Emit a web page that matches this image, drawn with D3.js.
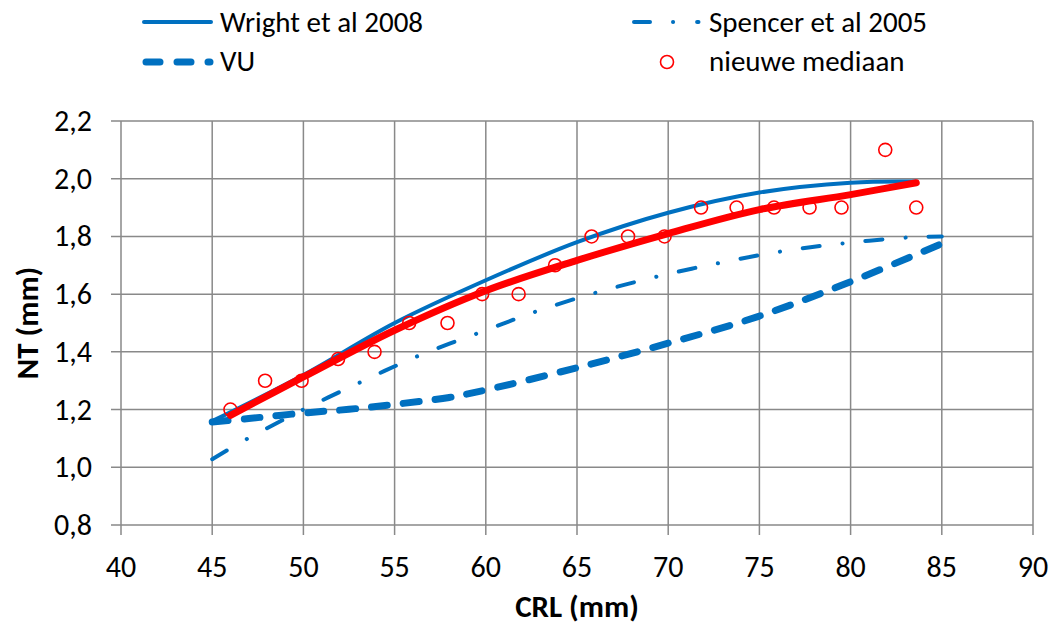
<!DOCTYPE html>
<html>
<head>
<meta charset="utf-8">
<script src="https://cdn.jsdelivr.net/npm/d3@7"></script>
<style>
  body { margin: 0; background: #fff; }
  svg text { font-family: Carlito, Calibri, "Open Sans", sans-serif; fill: #000; }
</style>
</head>
<body>
<svg id="chart" width="1054" height="629"></svg>
<script>
// nieuwe mediaan (points)
var crl = [46, 47.9, 49.9, 51.9, 53.9, 55.8, 57.9, 59.8, 61.8, 63.8, 65.8, 67.8, 69.8, 71.8, 73.75, 75.8, 77.75, 79.5, 81.9, 83.6];
var nt  = [1.2, 1.3, 1.3, 1.375, 1.4, 1.5, 1.5, 1.6, 1.6, 1.7, 1.8, 1.8, 1.8, 1.9, 1.9, 1.9, 1.9, 1.9, 2.1, 1.9];

// fitted curve through the new medians
var fitX = [46, 50, 55, 60, 65, 70, 75, 80, 83.6];
var fitY = [1.18, 1.313, 1.475, 1.612, 1.717, 1.81, 1.893, 1.945, 1.986];

// Wright et al 2008
var wrightX = [45, 50, 55, 60, 65, 70, 75, 80, 83.6];
var wrightY = [1.16, 1.32, 1.5, 1.648, 1.78, 1.882, 1.952, 1.986, 1.99];

// Spencer et al 2005
var spencerX = [45, 46.9, 50, 53.2, 56.3, 60, 62.9, 66.2, 69.6, 72.95, 76.4, 79.9, 83.3, 85];
var spencerY = [1.028, 1.098, 1.2, 1.297, 1.386, 1.475, 1.543, 1.608, 1.664, 1.71, 1.75, 1.778, 1.797, 1.8];

// VU
var vuX = [45, 47, 50, 52.5, 55, 58, 60, 65, 70, 75, 80, 85];
var vuY = [1.157, 1.169, 1.188, 1.201, 1.218, 1.242, 1.268, 1.345, 1.43, 1.524, 1.643, 1.775];

var xTicks = [40, 45, 50, 55, 60, 65, 70, 75, 80, 85, 90];
var yTicks = [0.8, 1.0, 1.2, 1.4, 1.6, 1.8, 2.0, 2.2];

var blue = '#0070C0', red = '#FF0000', grid = '#898989';

var svg = d3.select('#chart');
var x = d3.scaleLinear().domain([40, 90]).range([121, 1033]);
var y = d3.scaleLinear().domain([0.8, 2.2]).range([525, 121]);
var fmt = function(v) { return d3.format('.1f')(v).replace('.', ','); };

// gridlines + tick marks
svg.append('g').selectAll('line').data(xTicks).enter().append('line')
    .attr('x1', function(d) { return x(d); }).attr('x2', function(d) { return x(d); })
    .attr('y1', y(2.2)).attr('y2', y(0.8) + 10)
    .attr('stroke', grid).attr('stroke-width', 1.5);
svg.append('g').selectAll('line').data(yTicks).enter().append('line')
    .attr('x1', x(40) - 10).attr('x2', x(90))
    .attr('y1', function(d) { return y(d); }).attr('y2', function(d) { return y(d); })
    .attr('stroke', grid).attr('stroke-width', 1.5);

// tick labels
svg.append('g').selectAll('text').data(xTicks).enter().append('text')
    .attr('x', function(d) { return x(d); }).attr('y', 577)
    .attr('text-anchor', 'middle').style('font-size', '30px')
    .text(function(d) { return d; });
svg.append('g').selectAll('text').data(yTicks).enter().append('text')
    .attr('x', 92).attr('y', function(d) { return y(d) + 10; })
    .attr('text-anchor', 'end').style('font-size', '30px')
    .text(fmt);

// axis titles
svg.append('text').attr('x', 577).attr('y', 617).attr('text-anchor', 'middle')
    .style('font-size', '31px').style('font-weight', 'bold').text('CRL (mm)');
svg.append('text').attr('transform', 'translate(38,323) rotate(-90)').attr('text-anchor', 'middle')
    .style('font-size', '31px').style('font-weight', 'bold').text('NT (mm)');

var line = d3.line().curve(d3.curveCatmullRom.alpha(0.5))
    .x(function(d) { return x(d[0]); }).y(function(d) { return y(d[1]); });

// Wright
svg.append('path').datum(d3.zip(wrightX, wrightY)).attr('d', line)
    .attr('fill', 'none').attr('stroke', blue).attr('stroke-width', 4);
// Spencer
svg.append('path').datum(d3.zip(spencerX, spencerY)).attr('d', line)
    .attr('fill', 'none').attr('stroke', blue).attr('stroke-width', 4)
    .attr('stroke-linecap', 'round').attr('stroke-dasharray', '17,23,0.1,23');
// VU
svg.append('path').datum(d3.zip(vuX, vuY)).attr('d', line)
    .attr('fill', 'none').attr('stroke', blue).attr('stroke-width', 7)
    .attr('stroke-linecap', 'round').attr('stroke-dasharray', '16,16');
// red fit
svg.append('path').datum(d3.zip(fitX, fitY)).attr('d', line)
    .attr('fill', 'none').attr('stroke', red).attr('stroke-width', 7)
    .attr('stroke-linecap', 'round');
// points
svg.append('g').selectAll('circle').data(d3.zip(crl, nt)).enter().append('circle')
    .attr('cx', function(d) { return x(d[0]); }).attr('cy', function(d) { return y(d[1]); })
    .attr('r', 6.5).attr('fill', 'none').attr('stroke', red).attr('stroke-width', 1.6);

// legend
var leg = svg.append('g');
leg.append('line').attr('x1', 144).attr('x2', 211).attr('y1', 22).attr('y2', 22)
    .attr('stroke', blue).attr('stroke-width', 4).attr('stroke-linecap', 'round');
leg.append('text').attr('x', 220).attr('y', 32).style('font-size', '29px').text('Wright et al 2008');
leg.append('line').attr('x1', 634).attr('x2', 698.5).attr('y1', 22).attr('y2', 22)
    .attr('stroke', blue).attr('stroke-width', 4).attr('stroke-linecap', 'round')
    .attr('stroke-dasharray', '16,23,0.1,24');
leg.append('text').attr('x', 709).attr('y', 32).style('font-size', '29px').text('Spencer et al 2005');
leg.append('line').attr('x1', 146).attr('x2', 210).attr('y1', 62).attr('y2', 62)
    .attr('stroke', blue).attr('stroke-width', 7).attr('stroke-linecap', 'round')
    .attr('stroke-dasharray', '14,17');
leg.append('text').attr('x', 220).attr('y', 71).style('font-size', '29px').text('VU');
leg.append('circle').attr('cx', 667).attr('cy', 62).attr('r', 6.5)
    .attr('fill', 'none').attr('stroke', red).attr('stroke-width', 1.6);
leg.append('text').attr('x', 709).attr('y', 71).style('font-size', '29px').text('nieuwe mediaan');
</script>
</body>
</html>
